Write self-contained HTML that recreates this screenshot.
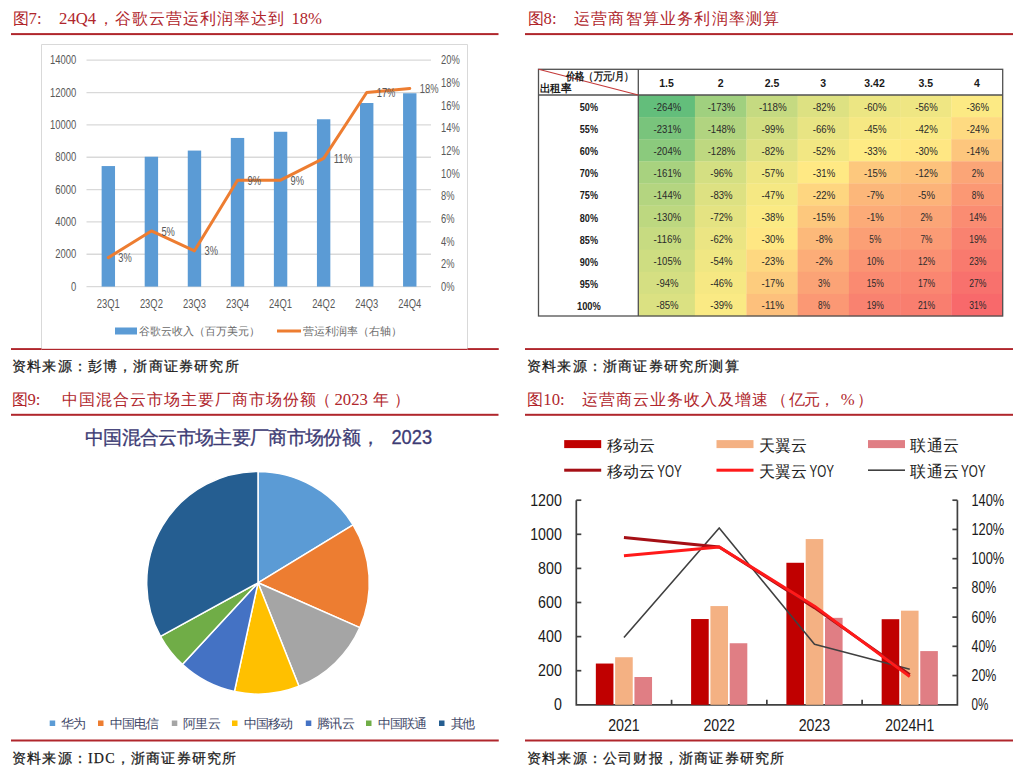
<!DOCTYPE html><html><head><meta charset="utf-8"><style>
html,body{margin:0;padding:0;background:#fff;width:1024px;height:779px;overflow:hidden}
svg{position:absolute;left:0;top:0;display:block}
text{font-family:"Liberation Sans",sans-serif}
.ser{font-family:"Liberation Serif",serif}
</style></head><body>
<svg width="1024" height="779" viewBox="0 0 1024 779">
<text class="ser" x="12.6" y="24" font-size="16" fill="#B0262C">图</text>
<text class="ser" x="28.6" y="24" font-size="16.7" fill="#B0262C">7:</text>
<text class="ser" x="59.1" y="24" font-size="16.7" fill="#B0262C" textLength="37" lengthAdjust="spacing">24Q4</text>
<text class="ser" x="97.5" y="24" font-size="16" fill="#B0262C" textLength="186.4" lengthAdjust="spacing">，谷歌云营运利润率达到</text>
<text class="ser" x="291.5" y="24" font-size="16.7" fill="#B0262C" textLength="30.5" lengthAdjust="spacing">18%</text>
<text class="ser" x="527.6" y="24" font-size="16" fill="#B0262C">图</text>
<text class="ser" x="543.6" y="24" font-size="16.7" fill="#B0262C">8:</text>
<text class="ser" x="574.1" y="24" font-size="16" fill="#B0262C" textLength="205" lengthAdjust="spacing">运营商智算业务利润率测算</text>
<text class="ser" x="11.5" y="405" font-size="16" fill="#B0262C">图</text>
<text class="ser" x="27.5" y="405" font-size="16.7" fill="#B0262C">9:</text>
<text class="ser" x="61.5" y="405" font-size="16" fill="#B0262C" textLength="254.3" lengthAdjust="spacing">中国混合云市场主要厂商市场份额</text>
<text class="ser" x="315" y="405" font-size="16" fill="#B0262C">（</text>
<text class="ser" x="334.5" y="405" font-size="16.7" fill="#B0262C">2023</text>
<text class="ser" x="373" y="405" font-size="16" fill="#B0262C">年</text>
<text class="ser" x="393.5" y="405" font-size="16" fill="#B0262C">）</text>
<text class="ser" x="527.3" y="405" font-size="16" fill="#B0262C">图</text>
<text class="ser" x="543.3" y="405" font-size="16.7" fill="#B0262C">10:</text>
<text class="ser" x="581.8" y="405" font-size="16" fill="#B0262C" textLength="186.4" lengthAdjust="spacing">运营商云业务收入及增速</text>
<text class="ser" x="770.8" y="405" font-size="16" fill="#B0262C">（</text>
<text class="ser" x="789" y="405" font-size="16" fill="#B0262C" textLength="46" lengthAdjust="spacing">亿元，</text>
<text class="ser" x="840.8" y="405" font-size="16.7" fill="#B0262C">%</text>
<text class="ser" x="856.6" y="405" font-size="16" fill="#B0262C">）</text>
<rect x="11" y="33.1" width="487.5" height="2" fill="#B0262C"/>
<rect x="525" y="33.1" width="488" height="2" fill="#B0262C"/>
<rect x="11" y="413.8" width="487.5" height="2" fill="#B0262C"/>
<rect x="525" y="413.8" width="488" height="2" fill="#B0262C"/>
<rect x="525" y="348.1" width="488" height="1.9" fill="#B0262C"/>
<rect x="11" y="739.5" width="487.75" height="2" fill="#B0262C"/>
<rect x="525" y="739.5" width="488" height="2" fill="#B0262C"/>
<text class="ser" x="12" y="371" font-size="14" fill="#1A1A1A" textLength="226.5" lengthAdjust="spacing" stroke="#1A1A1A" stroke-width="0.25">资料来源：彭博，浙商证券研究所</text>
<text class="ser" x="527" y="370.8" font-size="14" fill="#1A1A1A" textLength="211.5" lengthAdjust="spacing" stroke="#1A1A1A" stroke-width="0.25">资料来源：浙商证券研究所测算</text>
<text class="ser" x="12" y="763" font-size="14" fill="#1A1A1A" stroke="#1A1A1A" stroke-width="0.25" letter-spacing="1.2">资料来源：IDC，浙商证券研究所</text>
<text class="ser" x="527" y="763" font-size="14" fill="#1A1A1A" stroke="#1A1A1A" stroke-width="0.25" letter-spacing="1.2">资料来源：公司财报，浙商证券研究所</text>
<path d="M41.5,348.5 L41.5,44.5 L467.5,44.5 L467.5,348.5" fill="none" stroke="#D9D9D9" stroke-width="1"/>
<rect x="11" y="348.1" width="30.5" height="1.9" fill="#B0262C"/>
<rect x="41.5" y="348.79999999999995" width="426.0" height="1.2" fill="#B0262C"/>
<rect x="467.5" y="348.1" width="31.25" height="1.9" fill="#B0262C"/>
<line x1="86.5" y1="60.20" x2="431" y2="60.20" stroke="#D9D9D9" stroke-width="1.3"/>
<text x="76.30" y="64.40" font-size="12" fill="#595959" text-anchor="end" textLength="26.30" lengthAdjust="spacingAndGlyphs">14000</text>
<line x1="86.5" y1="92.54" x2="431" y2="92.54" stroke="#D9D9D9" stroke-width="1.3"/>
<text x="76.30" y="96.74" font-size="12" fill="#595959" text-anchor="end" textLength="26.30" lengthAdjust="spacingAndGlyphs">12000</text>
<line x1="86.5" y1="124.89" x2="431" y2="124.89" stroke="#D9D9D9" stroke-width="1.3"/>
<text x="76.30" y="129.09" font-size="12" fill="#595959" text-anchor="end" textLength="26.30" lengthAdjust="spacingAndGlyphs">10000</text>
<line x1="86.5" y1="157.23" x2="431" y2="157.23" stroke="#D9D9D9" stroke-width="1.3"/>
<text x="76.30" y="161.43" font-size="12" fill="#595959" text-anchor="end" textLength="21.04" lengthAdjust="spacingAndGlyphs">8000</text>
<line x1="86.5" y1="189.57" x2="431" y2="189.57" stroke="#D9D9D9" stroke-width="1.3"/>
<text x="76.30" y="193.77" font-size="12" fill="#595959" text-anchor="end" textLength="21.04" lengthAdjust="spacingAndGlyphs">6000</text>
<line x1="86.5" y1="221.91" x2="431" y2="221.91" stroke="#D9D9D9" stroke-width="1.3"/>
<text x="76.30" y="226.11" font-size="12" fill="#595959" text-anchor="end" textLength="21.04" lengthAdjust="spacingAndGlyphs">4000</text>
<line x1="86.5" y1="254.26" x2="431" y2="254.26" stroke="#D9D9D9" stroke-width="1.3"/>
<text x="76.30" y="258.46" font-size="12" fill="#595959" text-anchor="end" textLength="21.04" lengthAdjust="spacingAndGlyphs">2000</text>
<line x1="86.5" y1="286.60" x2="431" y2="286.60" stroke="#D9D9D9" stroke-width="1.3"/>
<text x="76.30" y="290.80" font-size="12" fill="#595959" text-anchor="end" textLength="5.26" lengthAdjust="spacingAndGlyphs">0</text>
<text x="441.00" y="64.40" font-size="12" fill="#595959" text-anchor="start" textLength="18.72" lengthAdjust="spacingAndGlyphs">20%</text>
<text x="441.00" y="87.04" font-size="12" fill="#595959" text-anchor="start" textLength="18.72" lengthAdjust="spacingAndGlyphs">18%</text>
<text x="441.00" y="109.68" font-size="12" fill="#595959" text-anchor="start" textLength="18.72" lengthAdjust="spacingAndGlyphs">16%</text>
<text x="441.00" y="132.32" font-size="12" fill="#595959" text-anchor="start" textLength="18.72" lengthAdjust="spacingAndGlyphs">14%</text>
<text x="441.00" y="154.96" font-size="12" fill="#595959" text-anchor="start" textLength="18.72" lengthAdjust="spacingAndGlyphs">12%</text>
<text x="441.00" y="177.60" font-size="12" fill="#595959" text-anchor="start" textLength="18.72" lengthAdjust="spacingAndGlyphs">10%</text>
<text x="441.00" y="200.24" font-size="12" fill="#595959" text-anchor="start" textLength="13.46" lengthAdjust="spacingAndGlyphs">8%</text>
<text x="441.00" y="222.88" font-size="12" fill="#595959" text-anchor="start" textLength="13.46" lengthAdjust="spacingAndGlyphs">6%</text>
<text x="441.00" y="245.52" font-size="12" fill="#595959" text-anchor="start" textLength="13.46" lengthAdjust="spacingAndGlyphs">4%</text>
<text x="441.00" y="268.16" font-size="12" fill="#595959" text-anchor="start" textLength="13.46" lengthAdjust="spacingAndGlyphs">2%</text>
<text x="441.00" y="290.80" font-size="12" fill="#595959" text-anchor="start" textLength="13.46" lengthAdjust="spacingAndGlyphs">0%</text>
<rect x="101.63" y="166.06" width="13.4" height="120.54" fill="#5B9BD5"/>
<text x="108.33" y="307.80" font-size="12" fill="#595959" text-anchor="middle" textLength="23.00" lengthAdjust="spacingAndGlyphs">23Q1</text>
<rect x="144.69" y="156.73" width="13.4" height="129.87" fill="#5B9BD5"/>
<text x="151.39" y="307.80" font-size="12" fill="#595959" text-anchor="middle" textLength="23.00" lengthAdjust="spacingAndGlyphs">23Q2</text>
<rect x="187.76" y="150.58" width="13.4" height="136.02" fill="#5B9BD5"/>
<text x="194.46" y="307.80" font-size="12" fill="#595959" text-anchor="middle" textLength="23.00" lengthAdjust="spacingAndGlyphs">23Q3</text>
<rect x="230.82" y="137.95" width="13.4" height="148.65" fill="#5B9BD5"/>
<text x="237.52" y="307.80" font-size="12" fill="#595959" text-anchor="middle" textLength="23.00" lengthAdjust="spacingAndGlyphs">23Q4</text>
<rect x="273.88" y="131.77" width="13.4" height="154.83" fill="#5B9BD5"/>
<text x="280.58" y="307.80" font-size="12" fill="#595959" text-anchor="middle" textLength="23.00" lengthAdjust="spacingAndGlyphs">24Q1</text>
<rect x="316.94" y="119.27" width="13.4" height="167.33" fill="#5B9BD5"/>
<text x="323.64" y="307.80" font-size="12" fill="#595959" text-anchor="middle" textLength="23.00" lengthAdjust="spacingAndGlyphs">24Q2</text>
<rect x="360.01" y="103.01" width="13.4" height="183.59" fill="#5B9BD5"/>
<text x="366.71" y="307.80" font-size="12" fill="#595959" text-anchor="middle" textLength="23.00" lengthAdjust="spacingAndGlyphs">24Q3</text>
<rect x="403.07" y="93.27" width="13.4" height="193.33" fill="#5B9BD5"/>
<text x="409.77" y="307.80" font-size="12" fill="#595959" text-anchor="middle" textLength="23.00" lengthAdjust="spacingAndGlyphs">24Q4</text>
<polyline points="108.33,257.62 151.39,230.91 194.46,250.83 237.52,180.19 280.58,180.19 323.64,158.34 366.71,92.46 409.77,88.39" fill="none" stroke="#ED7D31" stroke-width="3" stroke-linejoin="round" stroke-linecap="round"/>
<text x="118.33" y="262.22" font-size="12" fill="#595959" text-anchor="start" textLength="13.46" lengthAdjust="spacingAndGlyphs">3%</text>
<text x="161.39" y="235.51" font-size="12" fill="#595959" text-anchor="start" textLength="13.46" lengthAdjust="spacingAndGlyphs">5%</text>
<text x="204.46" y="255.43" font-size="12" fill="#595959" text-anchor="start" textLength="13.46" lengthAdjust="spacingAndGlyphs">3%</text>
<text x="247.52" y="184.79" font-size="12" fill="#595959" text-anchor="start" textLength="13.46" lengthAdjust="spacingAndGlyphs">9%</text>
<text x="290.58" y="184.79" font-size="12" fill="#595959" text-anchor="start" textLength="13.46" lengthAdjust="spacingAndGlyphs">9%</text>
<text x="333.64" y="162.94" font-size="12" fill="#595959" text-anchor="start" textLength="18.72" lengthAdjust="spacingAndGlyphs">11%</text>
<text x="376.71" y="97.06" font-size="12" fill="#595959" text-anchor="start" textLength="18.72" lengthAdjust="spacingAndGlyphs">17%</text>
<text x="419.77" y="92.99" font-size="12" fill="#595959" text-anchor="start" textLength="18.72" lengthAdjust="spacingAndGlyphs">18%</text>
<rect x="115" y="327.5" width="22" height="7" fill="#5B9BD5"/>
<text x="139" y="335" font-size="11" fill="#6A6A6A">谷歌云收入（百万美元）</text>
<rect x="277" y="329.5" width="24" height="3" fill="#ED7D31"/>
<text x="303" y="335" font-size="11" fill="#6A6A6A">营运利润率（右轴）</text>
<rect x="638.30" y="95.00" width="56.90" height="22.40" fill="#63BE7B"/>
<text x="667.40" y="110.55" font-size="10.5" fill="#2A2A2A" text-anchor="middle" textLength="27.60" lengthAdjust="spacingAndGlyphs">-264%</text>
<rect x="694.90" y="95.00" width="51.80" height="22.40" fill="#A0D07F"/>
<text x="721.45" y="110.55" font-size="10.5" fill="#2A2A2A" text-anchor="middle" textLength="27.60" lengthAdjust="spacingAndGlyphs">-173%</text>
<rect x="746.40" y="95.00" width="51.50" height="22.40" fill="#C5DA81"/>
<text x="772.80" y="110.55" font-size="10.5" fill="#2A2A2A" text-anchor="middle" textLength="27.60" lengthAdjust="spacingAndGlyphs">-118%</text>
<rect x="797.60" y="95.00" width="51.60" height="22.40" fill="#DDE182"/>
<text x="824.05" y="110.55" font-size="10.5" fill="#2A2A2A" text-anchor="middle" textLength="22.40" lengthAdjust="spacingAndGlyphs">-82%</text>
<rect x="848.90" y="95.00" width="51.50" height="22.40" fill="#ECE683"/>
<text x="875.30" y="110.55" font-size="10.5" fill="#2A2A2A" text-anchor="middle" textLength="22.40" lengthAdjust="spacingAndGlyphs">-60%</text>
<rect x="900.10" y="95.00" width="51.50" height="22.40" fill="#EFE683"/>
<text x="926.50" y="110.55" font-size="10.5" fill="#2A2A2A" text-anchor="middle" textLength="22.40" lengthAdjust="spacingAndGlyphs">-56%</text>
<rect x="951.30" y="95.00" width="51.70" height="22.40" fill="#FCEA84"/>
<text x="977.80" y="110.55" font-size="10.5" fill="#2A2A2A" text-anchor="middle" textLength="22.40" lengthAdjust="spacingAndGlyphs">-36%</text>
<text x="588.90" y="111.05" font-size="10.5" font-weight="bold" fill="#1A1A1A" text-anchor="middle" textLength="18.2" lengthAdjust="spacingAndGlyphs">50%</text>
<rect x="638.30" y="117.10" width="56.90" height="22.40" fill="#79C47C"/>
<text x="667.40" y="132.65" font-size="10.5" fill="#2A2A2A" text-anchor="middle" textLength="27.60" lengthAdjust="spacingAndGlyphs">-231%</text>
<rect x="694.90" y="117.10" width="51.80" height="22.40" fill="#B1D480"/>
<text x="721.45" y="132.65" font-size="10.5" fill="#2A2A2A" text-anchor="middle" textLength="27.60" lengthAdjust="spacingAndGlyphs">-148%</text>
<rect x="746.40" y="117.10" width="51.50" height="22.40" fill="#D2DE81"/>
<text x="772.80" y="132.65" font-size="10.5" fill="#2A2A2A" text-anchor="middle" textLength="22.40" lengthAdjust="spacingAndGlyphs">-99%</text>
<rect x="797.60" y="117.10" width="51.60" height="22.40" fill="#E8E483"/>
<text x="824.05" y="132.65" font-size="10.5" fill="#2A2A2A" text-anchor="middle" textLength="22.40" lengthAdjust="spacingAndGlyphs">-66%</text>
<rect x="848.90" y="117.10" width="51.50" height="22.40" fill="#F6E883"/>
<text x="875.30" y="132.65" font-size="10.5" fill="#2A2A2A" text-anchor="middle" textLength="22.40" lengthAdjust="spacingAndGlyphs">-45%</text>
<rect x="900.10" y="117.10" width="51.50" height="22.40" fill="#F8E984"/>
<text x="926.50" y="132.65" font-size="10.5" fill="#2A2A2A" text-anchor="middle" textLength="22.40" lengthAdjust="spacingAndGlyphs">-42%</text>
<rect x="951.30" y="117.10" width="51.70" height="22.40" fill="#FEDA81"/>
<text x="977.80" y="132.65" font-size="10.5" fill="#2A2A2A" text-anchor="middle" textLength="22.40" lengthAdjust="spacingAndGlyphs">-24%</text>
<text x="588.90" y="133.15" font-size="10.5" font-weight="bold" fill="#1A1A1A" text-anchor="middle" textLength="18.2" lengthAdjust="spacingAndGlyphs">55%</text>
<rect x="638.30" y="139.20" width="56.90" height="22.40" fill="#8BCA7D"/>
<text x="667.40" y="154.75" font-size="10.5" fill="#2A2A2A" text-anchor="middle" textLength="27.60" lengthAdjust="spacingAndGlyphs">-204%</text>
<rect x="694.90" y="139.20" width="51.80" height="22.40" fill="#BED880"/>
<text x="721.45" y="154.75" font-size="10.5" fill="#2A2A2A" text-anchor="middle" textLength="27.60" lengthAdjust="spacingAndGlyphs">-128%</text>
<rect x="746.40" y="139.20" width="51.50" height="22.40" fill="#DDE182"/>
<text x="772.80" y="154.75" font-size="10.5" fill="#2A2A2A" text-anchor="middle" textLength="22.40" lengthAdjust="spacingAndGlyphs">-82%</text>
<rect x="797.60" y="139.20" width="51.60" height="22.40" fill="#F2E783"/>
<text x="824.05" y="154.75" font-size="10.5" fill="#2A2A2A" text-anchor="middle" textLength="22.40" lengthAdjust="spacingAndGlyphs">-52%</text>
<rect x="848.90" y="139.20" width="51.50" height="22.40" fill="#FEEB84"/>
<text x="875.30" y="154.75" font-size="10.5" fill="#2A2A2A" text-anchor="middle" textLength="22.40" lengthAdjust="spacingAndGlyphs">-33%</text>
<rect x="900.10" y="139.20" width="51.50" height="22.40" fill="#FFE783"/>
<text x="926.50" y="154.75" font-size="10.5" fill="#2A2A2A" text-anchor="middle" textLength="22.40" lengthAdjust="spacingAndGlyphs">-30%</text>
<rect x="951.30" y="139.20" width="51.70" height="22.40" fill="#FDC67D"/>
<text x="977.80" y="154.75" font-size="10.5" fill="#2A2A2A" text-anchor="middle" textLength="22.40" lengthAdjust="spacingAndGlyphs">-14%</text>
<text x="588.90" y="155.25" font-size="10.5" font-weight="bold" fill="#1A1A1A" text-anchor="middle" textLength="18.2" lengthAdjust="spacingAndGlyphs">60%</text>
<rect x="638.30" y="161.30" width="56.90" height="22.40" fill="#A8D27F"/>
<text x="667.40" y="176.85" font-size="10.5" fill="#2A2A2A" text-anchor="middle" textLength="27.60" lengthAdjust="spacingAndGlyphs">-161%</text>
<rect x="694.90" y="161.30" width="51.80" height="22.40" fill="#D4DF82"/>
<text x="721.45" y="176.85" font-size="10.5" fill="#2A2A2A" text-anchor="middle" textLength="22.40" lengthAdjust="spacingAndGlyphs">-96%</text>
<rect x="746.40" y="161.30" width="51.50" height="22.40" fill="#EEE683"/>
<text x="772.80" y="176.85" font-size="10.5" fill="#2A2A2A" text-anchor="middle" textLength="22.40" lengthAdjust="spacingAndGlyphs">-57%</text>
<rect x="797.60" y="161.30" width="51.60" height="22.40" fill="#FFE984"/>
<text x="824.05" y="176.85" font-size="10.5" fill="#2A2A2A" text-anchor="middle" textLength="22.40" lengthAdjust="spacingAndGlyphs">-31%</text>
<rect x="848.90" y="161.30" width="51.50" height="22.40" fill="#FDC87D"/>
<text x="875.30" y="176.85" font-size="10.5" fill="#2A2A2A" text-anchor="middle" textLength="22.40" lengthAdjust="spacingAndGlyphs">-15%</text>
<rect x="900.10" y="161.30" width="51.50" height="22.40" fill="#FDC27C"/>
<text x="926.50" y="176.85" font-size="10.5" fill="#2A2A2A" text-anchor="middle" textLength="22.40" lengthAdjust="spacingAndGlyphs">-12%</text>
<rect x="951.30" y="161.30" width="51.70" height="22.40" fill="#FBA577"/>
<text x="977.80" y="176.85" font-size="10.5" fill="#2A2A2A" text-anchor="middle" textLength="12.00" lengthAdjust="spacingAndGlyphs">2%</text>
<text x="588.90" y="177.35" font-size="10.5" font-weight="bold" fill="#1A1A1A" text-anchor="middle" textLength="18.2" lengthAdjust="spacingAndGlyphs">70%</text>
<rect x="638.30" y="183.40" width="56.90" height="22.40" fill="#B4D580"/>
<text x="667.40" y="198.95" font-size="10.5" fill="#2A2A2A" text-anchor="middle" textLength="27.60" lengthAdjust="spacingAndGlyphs">-144%</text>
<rect x="694.90" y="183.40" width="51.80" height="22.40" fill="#DDE182"/>
<text x="721.45" y="198.95" font-size="10.5" fill="#2A2A2A" text-anchor="middle" textLength="22.40" lengthAdjust="spacingAndGlyphs">-83%</text>
<rect x="746.40" y="183.40" width="51.50" height="22.40" fill="#F5E883"/>
<text x="772.80" y="198.95" font-size="10.5" fill="#2A2A2A" text-anchor="middle" textLength="22.40" lengthAdjust="spacingAndGlyphs">-47%</text>
<rect x="797.60" y="183.40" width="51.60" height="22.40" fill="#FED680"/>
<text x="824.05" y="198.95" font-size="10.5" fill="#2A2A2A" text-anchor="middle" textLength="22.40" lengthAdjust="spacingAndGlyphs">-22%</text>
<rect x="848.90" y="183.40" width="51.50" height="22.40" fill="#FCB77A"/>
<text x="875.30" y="198.95" font-size="10.5" fill="#2A2A2A" text-anchor="middle" textLength="17.20" lengthAdjust="spacingAndGlyphs">-7%</text>
<rect x="900.10" y="183.40" width="51.50" height="22.40" fill="#FCB379"/>
<text x="926.50" y="198.95" font-size="10.5" fill="#2A2A2A" text-anchor="middle" textLength="17.20" lengthAdjust="spacingAndGlyphs">-5%</text>
<rect x="951.30" y="183.40" width="51.70" height="22.40" fill="#FB9874"/>
<text x="977.80" y="198.95" font-size="10.5" fill="#2A2A2A" text-anchor="middle" textLength="12.00" lengthAdjust="spacingAndGlyphs">8%</text>
<text x="588.90" y="199.45" font-size="10.5" font-weight="bold" fill="#1A1A1A" text-anchor="middle" textLength="18.2" lengthAdjust="spacingAndGlyphs">75%</text>
<rect x="638.30" y="205.50" width="56.90" height="22.40" fill="#BDD880"/>
<text x="667.40" y="221.05" font-size="10.5" fill="#2A2A2A" text-anchor="middle" textLength="27.60" lengthAdjust="spacingAndGlyphs">-130%</text>
<rect x="694.90" y="205.50" width="51.80" height="22.40" fill="#E4E382"/>
<text x="721.45" y="221.05" font-size="10.5" fill="#2A2A2A" text-anchor="middle" textLength="22.40" lengthAdjust="spacingAndGlyphs">-72%</text>
<rect x="746.40" y="205.50" width="51.50" height="22.40" fill="#FBEA84"/>
<text x="772.80" y="221.05" font-size="10.5" fill="#2A2A2A" text-anchor="middle" textLength="22.40" lengthAdjust="spacingAndGlyphs">-38%</text>
<rect x="797.60" y="205.50" width="51.60" height="22.40" fill="#FDC87D"/>
<text x="824.05" y="221.05" font-size="10.5" fill="#2A2A2A" text-anchor="middle" textLength="22.40" lengthAdjust="spacingAndGlyphs">-15%</text>
<rect x="848.90" y="205.50" width="51.50" height="22.40" fill="#FCAB78"/>
<text x="875.30" y="221.05" font-size="10.5" fill="#2A2A2A" text-anchor="middle" textLength="17.20" lengthAdjust="spacingAndGlyphs">-1%</text>
<rect x="900.10" y="205.50" width="51.50" height="22.40" fill="#FBA577"/>
<text x="926.50" y="221.05" font-size="10.5" fill="#2A2A2A" text-anchor="middle" textLength="12.00" lengthAdjust="spacingAndGlyphs">2%</text>
<rect x="951.30" y="205.50" width="51.70" height="22.40" fill="#FA8C72"/>
<text x="977.80" y="221.05" font-size="10.5" fill="#2A2A2A" text-anchor="middle" textLength="17.20" lengthAdjust="spacingAndGlyphs">14%</text>
<text x="588.90" y="221.55" font-size="10.5" font-weight="bold" fill="#1A1A1A" text-anchor="middle" textLength="18.2" lengthAdjust="spacingAndGlyphs">80%</text>
<rect x="638.30" y="227.60" width="56.90" height="22.40" fill="#C7DB81"/>
<text x="667.40" y="243.15" font-size="10.5" fill="#2A2A2A" text-anchor="middle" textLength="27.60" lengthAdjust="spacingAndGlyphs">-116%</text>
<rect x="694.90" y="227.60" width="51.80" height="22.40" fill="#EBE583"/>
<text x="721.45" y="243.15" font-size="10.5" fill="#2A2A2A" text-anchor="middle" textLength="22.40" lengthAdjust="spacingAndGlyphs">-62%</text>
<rect x="746.40" y="227.60" width="51.50" height="22.40" fill="#FFE783"/>
<text x="772.80" y="243.15" font-size="10.5" fill="#2A2A2A" text-anchor="middle" textLength="22.40" lengthAdjust="spacingAndGlyphs">-30%</text>
<rect x="797.60" y="227.60" width="51.60" height="22.40" fill="#FCB97A"/>
<text x="824.05" y="243.15" font-size="10.5" fill="#2A2A2A" text-anchor="middle" textLength="17.20" lengthAdjust="spacingAndGlyphs">-8%</text>
<rect x="848.90" y="227.60" width="51.50" height="22.40" fill="#FB9F75"/>
<text x="875.30" y="243.15" font-size="10.5" fill="#2A2A2A" text-anchor="middle" textLength="12.00" lengthAdjust="spacingAndGlyphs">5%</text>
<rect x="900.10" y="227.60" width="51.50" height="22.40" fill="#FB9B75"/>
<text x="926.50" y="243.15" font-size="10.5" fill="#2A2A2A" text-anchor="middle" textLength="12.00" lengthAdjust="spacingAndGlyphs">7%</text>
<rect x="951.30" y="227.60" width="51.70" height="22.40" fill="#F98270"/>
<text x="977.80" y="243.15" font-size="10.5" fill="#2A2A2A" text-anchor="middle" textLength="17.20" lengthAdjust="spacingAndGlyphs">19%</text>
<text x="588.90" y="243.65" font-size="10.5" font-weight="bold" fill="#1A1A1A" text-anchor="middle" textLength="18.2" lengthAdjust="spacingAndGlyphs">85%</text>
<rect x="638.30" y="249.70" width="56.90" height="22.40" fill="#CEDD81"/>
<text x="667.40" y="265.25" font-size="10.5" fill="#2A2A2A" text-anchor="middle" textLength="27.60" lengthAdjust="spacingAndGlyphs">-105%</text>
<rect x="694.90" y="249.70" width="51.80" height="22.40" fill="#F0E783"/>
<text x="721.45" y="265.25" font-size="10.5" fill="#2A2A2A" text-anchor="middle" textLength="22.40" lengthAdjust="spacingAndGlyphs">-54%</text>
<rect x="746.40" y="249.70" width="51.50" height="22.40" fill="#FED880"/>
<text x="772.80" y="265.25" font-size="10.5" fill="#2A2A2A" text-anchor="middle" textLength="22.40" lengthAdjust="spacingAndGlyphs">-23%</text>
<rect x="797.60" y="249.70" width="51.60" height="22.40" fill="#FCAD78"/>
<text x="824.05" y="265.25" font-size="10.5" fill="#2A2A2A" text-anchor="middle" textLength="17.20" lengthAdjust="spacingAndGlyphs">-2%</text>
<rect x="848.90" y="249.70" width="51.50" height="22.40" fill="#FA9473"/>
<text x="875.30" y="265.25" font-size="10.5" fill="#2A2A2A" text-anchor="middle" textLength="17.20" lengthAdjust="spacingAndGlyphs">10%</text>
<rect x="900.10" y="249.70" width="51.50" height="22.40" fill="#FA9073"/>
<text x="926.50" y="265.25" font-size="10.5" fill="#2A2A2A" text-anchor="middle" textLength="17.20" lengthAdjust="spacingAndGlyphs">12%</text>
<rect x="951.30" y="249.70" width="51.70" height="22.40" fill="#F97A6E"/>
<text x="977.80" y="265.25" font-size="10.5" fill="#2A2A2A" text-anchor="middle" textLength="17.20" lengthAdjust="spacingAndGlyphs">23%</text>
<text x="588.90" y="265.75" font-size="10.5" font-weight="bold" fill="#1A1A1A" text-anchor="middle" textLength="18.2" lengthAdjust="spacingAndGlyphs">90%</text>
<rect x="638.30" y="271.80" width="56.90" height="22.40" fill="#D5DF82"/>
<text x="667.40" y="287.35" font-size="10.5" fill="#2A2A2A" text-anchor="middle" textLength="22.40" lengthAdjust="spacingAndGlyphs">-94%</text>
<rect x="694.90" y="271.80" width="51.80" height="22.40" fill="#F6E883"/>
<text x="721.45" y="287.35" font-size="10.5" fill="#2A2A2A" text-anchor="middle" textLength="22.40" lengthAdjust="spacingAndGlyphs">-46%</text>
<rect x="746.40" y="271.80" width="51.50" height="22.40" fill="#FDCC7E"/>
<text x="772.80" y="287.35" font-size="10.5" fill="#2A2A2A" text-anchor="middle" textLength="22.40" lengthAdjust="spacingAndGlyphs">-17%</text>
<rect x="797.60" y="271.80" width="51.60" height="22.40" fill="#FBA376"/>
<text x="824.05" y="287.35" font-size="10.5" fill="#2A2A2A" text-anchor="middle" textLength="12.00" lengthAdjust="spacingAndGlyphs">3%</text>
<rect x="848.90" y="271.80" width="51.50" height="22.40" fill="#FA8A71"/>
<text x="875.30" y="287.35" font-size="10.5" fill="#2A2A2A" text-anchor="middle" textLength="17.20" lengthAdjust="spacingAndGlyphs">15%</text>
<rect x="900.10" y="271.80" width="51.50" height="22.40" fill="#FA8671"/>
<text x="926.50" y="287.35" font-size="10.5" fill="#2A2A2A" text-anchor="middle" textLength="17.20" lengthAdjust="spacingAndGlyphs">17%</text>
<rect x="951.30" y="271.80" width="51.70" height="22.40" fill="#F8716D"/>
<text x="977.80" y="287.35" font-size="10.5" fill="#2A2A2A" text-anchor="middle" textLength="17.20" lengthAdjust="spacingAndGlyphs">27%</text>
<text x="588.90" y="287.85" font-size="10.5" font-weight="bold" fill="#1A1A1A" text-anchor="middle" textLength="18.2" lengthAdjust="spacingAndGlyphs">95%</text>
<rect x="638.30" y="293.90" width="56.90" height="22.40" fill="#DBE182"/>
<text x="667.40" y="309.45" font-size="10.5" fill="#2A2A2A" text-anchor="middle" textLength="22.40" lengthAdjust="spacingAndGlyphs">-85%</text>
<rect x="694.90" y="293.90" width="51.80" height="22.40" fill="#FAEA84"/>
<text x="721.45" y="309.45" font-size="10.5" fill="#2A2A2A" text-anchor="middle" textLength="22.40" lengthAdjust="spacingAndGlyphs">-39%</text>
<rect x="746.40" y="293.90" width="51.50" height="22.40" fill="#FDC07C"/>
<text x="772.80" y="309.45" font-size="10.5" fill="#2A2A2A" text-anchor="middle" textLength="22.40" lengthAdjust="spacingAndGlyphs">-11%</text>
<rect x="797.60" y="293.90" width="51.60" height="22.40" fill="#FB9874"/>
<text x="824.05" y="309.45" font-size="10.5" fill="#2A2A2A" text-anchor="middle" textLength="12.00" lengthAdjust="spacingAndGlyphs">8%</text>
<rect x="848.90" y="293.90" width="51.50" height="22.40" fill="#F98270"/>
<text x="875.30" y="309.45" font-size="10.5" fill="#2A2A2A" text-anchor="middle" textLength="17.20" lengthAdjust="spacingAndGlyphs">19%</text>
<rect x="900.10" y="293.90" width="51.50" height="22.40" fill="#F97E6F"/>
<text x="926.50" y="309.45" font-size="10.5" fill="#2A2A2A" text-anchor="middle" textLength="17.20" lengthAdjust="spacingAndGlyphs">21%</text>
<rect x="951.30" y="293.90" width="51.70" height="22.40" fill="#F8696B"/>
<text x="977.80" y="309.45" font-size="10.5" fill="#2A2A2A" text-anchor="middle" textLength="17.20" lengthAdjust="spacingAndGlyphs">31%</text>
<text x="588.90" y="309.95" font-size="10.5" font-weight="bold" fill="#1A1A1A" text-anchor="middle" textLength="23.8" lengthAdjust="spacingAndGlyphs">100%</text>
<text x="666.60" y="86.6" font-size="10.5" font-weight="bold" fill="#1A1A1A" text-anchor="middle">1.5</text>
<text x="720.65" y="86.6" font-size="10.5" font-weight="bold" fill="#1A1A1A" text-anchor="middle">2</text>
<text x="772.00" y="86.6" font-size="10.5" font-weight="bold" fill="#1A1A1A" text-anchor="middle">2.5</text>
<text x="823.25" y="86.6" font-size="10.5" font-weight="bold" fill="#1A1A1A" text-anchor="middle">3</text>
<text x="874.50" y="86.6" font-size="10.5" font-weight="bold" fill="#1A1A1A" text-anchor="middle">3.42</text>
<text x="925.70" y="86.6" font-size="10.5" font-weight="bold" fill="#1A1A1A" text-anchor="middle">3.5</text>
<text x="977.00" y="86.6" font-size="10.5" font-weight="bold" fill="#1A1A1A" text-anchor="middle">4</text>
<rect x="538.5" y="69.3" width="464.20000000000005" height="246.7" fill="none" stroke="#505050" stroke-width="1.3"/>
<line x1="538.5" y1="95.0" x2="1002.7" y2="95.0" stroke="#505050" stroke-width="1.3"/>
<line x1="638.3" y1="69.3" x2="638.3" y2="316" stroke="#505050" stroke-width="1.3"/>
<line x1="538.5" y1="69.3" x2="638.3" y2="95.0" stroke="#C43A3A" stroke-width="1.1"/>
<text x="565.6" y="79.8" font-size="10.5" font-weight="bold" fill="#1A1A1A" textLength="67.7" lengthAdjust="spacingAndGlyphs">价格（万元/月）</text>
<text x="539.5" y="91.6" font-size="10.5" font-weight="bold" fill="#1A1A1A" textLength="31.8" lengthAdjust="spacingAndGlyphs">出租率</text>
<text x="84.8" y="443.6" font-size="19.3" fill="#3D3B74" stroke="#3D3B74" stroke-width="0.3" textLength="276" lengthAdjust="spacing">中国混合云市场主要厂商市场份额</text>
<text x="361" y="443.6" font-size="19.3" fill="#3D3B74" stroke="#3D3B74" stroke-width="0.3">，</text>
<text x="391.4" y="443.6" font-size="19.3" fill="#3D3B74" stroke="#3D3B74" stroke-width="0.3" textLength="40.7" lengthAdjust="spacingAndGlyphs">2023</text>
<path d="M258,582.8 L258.00,471.50 A111.3,111.3 0 0 1 353.08,524.94 Z" fill="#5B9BD5" stroke="#fff" stroke-width="1.5" stroke-linejoin="round"/>
<path d="M258,582.8 L353.08,524.94 A111.3,111.3 0 0 1 359.87,627.64 Z" fill="#ED7D31" stroke="#fff" stroke-width="1.5" stroke-linejoin="round"/>
<path d="M258,582.8 L359.87,627.64 A111.3,111.3 0 0 1 298.97,686.28 Z" fill="#A5A5A5" stroke="#fff" stroke-width="1.5" stroke-linejoin="round"/>
<path d="M258,582.8 L298.97,686.28 A111.3,111.3 0 0 1 234.40,691.57 Z" fill="#FFC000" stroke="#fff" stroke-width="1.5" stroke-linejoin="round"/>
<path d="M258,582.8 L234.40,691.57 A111.3,111.3 0 0 1 182.32,664.41 Z" fill="#4472C4" stroke="#fff" stroke-width="1.5" stroke-linejoin="round"/>
<path d="M258,582.8 L182.32,664.41 A111.3,111.3 0 0 1 160.47,636.42 Z" fill="#70AD47" stroke="#fff" stroke-width="1.5" stroke-linejoin="round"/>
<path d="M258,582.8 L160.47,636.42 A111.3,111.3 0 0 1 258.00,471.50 Z" fill="#255E91" stroke="#fff" stroke-width="1.5" stroke-linejoin="round"/>
<rect x="49.7" y="720.5" width="5.5" height="5.5" fill="#5B9BD5"/>
<text x="61.2" y="727.8" font-size="12.5" fill="#414868" textLength="24.8" lengthAdjust="spacing">华为</text>
<rect x="98" y="720.5" width="5.5" height="5.5" fill="#ED7D31"/>
<text x="109.5" y="727.8" font-size="12.5" fill="#414868" textLength="49.6" lengthAdjust="spacing">中国电信</text>
<rect x="171.8" y="720.5" width="5.5" height="5.5" fill="#A5A5A5"/>
<text x="183.3" y="727.8" font-size="12.5" fill="#414868" textLength="37.2" lengthAdjust="spacing">阿里云</text>
<rect x="232" y="720.5" width="5.5" height="5.5" fill="#FFC000"/>
<text x="243.5" y="727.8" font-size="12.5" fill="#414868" textLength="49.6" lengthAdjust="spacing">中国移动</text>
<rect x="305.8" y="720.5" width="5.5" height="5.5" fill="#4472C4"/>
<text x="317.3" y="727.8" font-size="12.5" fill="#414868" textLength="37.2" lengthAdjust="spacing">腾讯云</text>
<rect x="366" y="720.5" width="5.5" height="5.5" fill="#70AD47"/>
<text x="377.5" y="727.8" font-size="12.5" fill="#414868" textLength="49.6" lengthAdjust="spacing">中国联通</text>
<rect x="439" y="720.5" width="5.5" height="5.5" fill="#255E91"/>
<text x="450.5" y="727.8" font-size="12.5" fill="#414868" textLength="24.8" lengthAdjust="spacing">其他</text>
<text x="561.80" y="710.40" font-size="16.2" fill="#1A1A1A" text-anchor="end" textLength="7.90" lengthAdjust="spacingAndGlyphs">0</text>
<line x1="576.3" y1="670.70" x2="581.3" y2="670.70" stroke="#404040" stroke-width="1.7"/>
<text x="561.80" y="676.30" font-size="16.2" fill="#1A1A1A" text-anchor="end" textLength="23.70" lengthAdjust="spacingAndGlyphs">200</text>
<line x1="576.3" y1="636.60" x2="581.3" y2="636.60" stroke="#404040" stroke-width="1.7"/>
<text x="561.80" y="642.20" font-size="16.2" fill="#1A1A1A" text-anchor="end" textLength="23.70" lengthAdjust="spacingAndGlyphs">400</text>
<line x1="576.3" y1="602.50" x2="581.3" y2="602.50" stroke="#404040" stroke-width="1.7"/>
<text x="561.80" y="608.10" font-size="16.2" fill="#1A1A1A" text-anchor="end" textLength="23.70" lengthAdjust="spacingAndGlyphs">600</text>
<line x1="576.3" y1="568.40" x2="581.3" y2="568.40" stroke="#404040" stroke-width="1.7"/>
<text x="561.80" y="574.00" font-size="16.2" fill="#1A1A1A" text-anchor="end" textLength="23.70" lengthAdjust="spacingAndGlyphs">800</text>
<line x1="576.3" y1="534.30" x2="581.3" y2="534.30" stroke="#404040" stroke-width="1.7"/>
<text x="561.80" y="539.90" font-size="16.2" fill="#1A1A1A" text-anchor="end" textLength="31.60" lengthAdjust="spacingAndGlyphs">1000</text>
<line x1="576.3" y1="500.20" x2="581.3" y2="500.20" stroke="#404040" stroke-width="1.7"/>
<text x="561.80" y="505.80" font-size="16.2" fill="#1A1A1A" text-anchor="end" textLength="31.60" lengthAdjust="spacingAndGlyphs">1200</text>
<text x="971.50" y="710.40" font-size="16.2" fill="#1A1A1A" text-anchor="start" textLength="16.90" lengthAdjust="spacingAndGlyphs">0%</text>
<line x1="952.4" y1="675.57" x2="957.4" y2="675.57" stroke="#404040" stroke-width="1.7"/>
<text x="971.50" y="681.17" font-size="16.2" fill="#1A1A1A" text-anchor="start" textLength="24.80" lengthAdjust="spacingAndGlyphs">20%</text>
<line x1="952.4" y1="646.34" x2="957.4" y2="646.34" stroke="#404040" stroke-width="1.7"/>
<text x="971.50" y="651.94" font-size="16.2" fill="#1A1A1A" text-anchor="start" textLength="24.80" lengthAdjust="spacingAndGlyphs">40%</text>
<line x1="952.4" y1="617.11" x2="957.4" y2="617.11" stroke="#404040" stroke-width="1.7"/>
<text x="971.50" y="622.71" font-size="16.2" fill="#1A1A1A" text-anchor="start" textLength="24.80" lengthAdjust="spacingAndGlyphs">60%</text>
<line x1="952.4" y1="587.89" x2="957.4" y2="587.89" stroke="#404040" stroke-width="1.7"/>
<text x="971.50" y="593.49" font-size="16.2" fill="#1A1A1A" text-anchor="start" textLength="24.80" lengthAdjust="spacingAndGlyphs">80%</text>
<line x1="952.4" y1="558.66" x2="957.4" y2="558.66" stroke="#404040" stroke-width="1.7"/>
<text x="971.50" y="564.26" font-size="16.2" fill="#1A1A1A" text-anchor="start" textLength="32.70" lengthAdjust="spacingAndGlyphs">100%</text>
<line x1="952.4" y1="529.43" x2="957.4" y2="529.43" stroke="#404040" stroke-width="1.7"/>
<text x="971.50" y="535.03" font-size="16.2" fill="#1A1A1A" text-anchor="start" textLength="32.70" lengthAdjust="spacingAndGlyphs">120%</text>
<line x1="952.4" y1="500.20" x2="957.4" y2="500.20" stroke="#404040" stroke-width="1.7"/>
<text x="971.50" y="505.80" font-size="16.2" fill="#1A1A1A" text-anchor="start" textLength="32.70" lengthAdjust="spacingAndGlyphs">140%</text>
<path d="M576.3,500.2 L576.3,704.8 L957.4,704.8 L957.4,500.2" fill="none" stroke="#404040" stroke-width="1.7"/>
<line x1="671.57" y1="699.8" x2="671.57" y2="704.8" stroke="#404040" stroke-width="1.7"/>
<line x1="766.85" y1="699.8" x2="766.85" y2="704.8" stroke="#404040" stroke-width="1.7"/>
<line x1="862.12" y1="699.8" x2="862.12" y2="704.8" stroke="#404040" stroke-width="1.7"/>
<rect x="595.84" y="663.54" width="17.6" height="41.26" fill="#C00000"/>
<rect x="615.14" y="657.23" width="17.6" height="47.57" fill="#F4B183"/>
<rect x="634.44" y="677.01" width="17.6" height="27.79" fill="#E07E84"/>
<text x="623.94" y="730.80" font-size="16.2" fill="#1A1A1A" text-anchor="middle" textLength="31.50" lengthAdjust="spacingAndGlyphs">2021</text>
<rect x="691.11" y="619.04" width="17.6" height="85.76" fill="#C00000"/>
<rect x="710.41" y="606.08" width="17.6" height="98.72" fill="#F4B183"/>
<rect x="729.71" y="643.25" width="17.6" height="61.55" fill="#E07E84"/>
<text x="719.21" y="730.80" font-size="16.2" fill="#1A1A1A" text-anchor="middle" textLength="31.50" lengthAdjust="spacingAndGlyphs">2022</text>
<rect x="786.39" y="562.77" width="17.6" height="142.03" fill="#C00000"/>
<rect x="805.69" y="539.07" width="17.6" height="165.73" fill="#F4B183"/>
<rect x="824.99" y="617.84" width="17.6" height="86.95" fill="#E07E84"/>
<text x="814.49" y="730.80" font-size="16.2" fill="#1A1A1A" text-anchor="middle" textLength="31.50" lengthAdjust="spacingAndGlyphs">2023</text>
<rect x="881.66" y="619.21" width="17.6" height="85.59" fill="#C00000"/>
<rect x="900.96" y="610.68" width="17.6" height="94.12" fill="#F4B183"/>
<rect x="920.26" y="651.09" width="17.6" height="53.71" fill="#E07E84"/>
<text x="909.76" y="730.80" font-size="16.2" fill="#1A1A1A" text-anchor="middle" textLength="49.00" lengthAdjust="spacingAndGlyphs">2024H1</text>
<polyline points="623.94,637.57 719.21,527.97 814.49,644.30 909.76,669.29" fill="none" stroke="#404040" stroke-width="1.6" stroke-linejoin="round"/>
<polyline points="623.94,537.47 719.21,546.97 814.49,607.62 909.76,674.84" fill="none" stroke="#A50F15" stroke-width="3" stroke-linejoin="round"/>
<polyline points="623.94,555.73 719.21,546.97 814.49,606.15 909.76,676.59" fill="none" stroke="#FF1A1A" stroke-width="3" stroke-linejoin="round"/>
<rect x="564.2" y="440.1" width="37" height="8" fill="#C00000"/>
<text class="ser" x="606.6" y="450.5" font-size="15.5" fill="#222" textLength="48.5" lengthAdjust="spacing">移动云</text>
<rect x="716.5" y="440.1" width="37" height="8" fill="#F4B183"/>
<text class="ser" x="758.9" y="450.5" font-size="15.5" fill="#222" textLength="48.5" lengthAdjust="spacing">天翼云</text>
<rect x="868" y="440.1" width="37" height="8" fill="#E07E84"/>
<text class="ser" x="910.4" y="450.5" font-size="15.5" fill="#222" textLength="48.5" lengthAdjust="spacing">联通云</text>
<rect x="564.2" y="468.7" width="37" height="3" fill="#A50F15"/>
<text class="ser" x="606.6" y="476.5" font-size="15.5" fill="#222" textLength="48.5" lengthAdjust="spacing">移动云</text>
<text x="657.20" y="476.50" font-size="16" fill="#222" text-anchor="start" textLength="24.50" lengthAdjust="spacingAndGlyphs">YOY</text>
<rect x="716.5" y="468.7" width="37" height="3" fill="#FF1A1A"/>
<text class="ser" x="758.9" y="476.5" font-size="15.5" fill="#222" textLength="48.5" lengthAdjust="spacing">天翼云</text>
<text x="809.50" y="476.50" font-size="16" fill="#222" text-anchor="start" textLength="24.50" lengthAdjust="spacingAndGlyphs">YOY</text>
<rect x="868" y="469.4" width="37" height="1.6" fill="#404040"/>
<text class="ser" x="910.4" y="476.5" font-size="15.5" fill="#222" textLength="48.5" lengthAdjust="spacing">联通云</text>
<text x="961.00" y="476.50" font-size="16" fill="#222" text-anchor="start" textLength="24.50" lengthAdjust="spacingAndGlyphs">YOY</text>
</svg></body></html>
